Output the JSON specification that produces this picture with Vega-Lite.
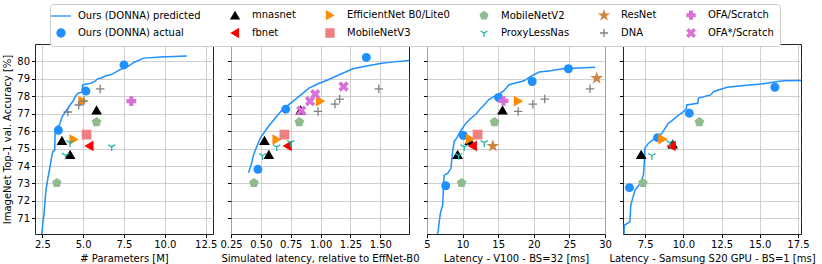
{
 "$schema": "https://vega.github.io/schema/vega-lite/v6.json",
 "padding": {"left": 2, "top": 3, "right": 5, "bottom": 2},
 "bounds": "flush",
 "spacing": 18,
 "config": {
  "font": "DejaVu Sans",
  "view": {"stroke": "#222222", "strokeWidth": 1},
  "axis": {"labelFontSize": 10, "titleFontSize": 10, "titleFontWeight": "normal", "labelColor": "#000000", "titleColor": "#000000", "tickColor": "#000000", "tickSize": 3.5, "labelPadding": 2, "domain": false, "gridColor": "#c4c4c4", "gridWidth": 0.8, "labelFont": "DejaVu Sans", "titleFont": "DejaVu Sans", "labelFlush": false, "labelOverlap": false, "titleLimit": 300, "tickCount": 20},
  "legend": {"labelFontSize": 10, "labelFont": "DejaVu Sans", "labelColor": "#000000", "symbolSize": 64, "symbolStrokeWidth": 1.3, "labelOffset": 12, "columnPadding": 27, "rowPadding": 4, "padding": 6, "strokeColor": "#cccccc", "fillColor": "#ffffff", "cornerRadius": 3, "labelLimit": 300, "symbolOpacity": 1}
 },
 "datasets": {
  "line": [
   {"p":1,"x":2.46,"y":70.08},{"p":1,"x":2.55,"y":70.9},{"p":1,"x":2.6,"y":71.2},{"p":1,"x":2.68,"y":72.2},{"p":1,"x":2.74,"y":72.72},{"p":1,"x":2.84,"y":73.3},{"p":1,"x":2.92,"y":73.7},{"p":1,"x":2.99,"y":74.06},{"p":1,"x":3.09,"y":74.64},{"p":1,"x":3.15,"y":74.83},{"p":1,"x":3.26,"y":74.9},{"p":1,"x":3.29,"y":76.15},{"p":1,"x":3.4,"y":76.25},{"p":1,"x":3.55,"y":76.36},{"p":1,"x":3.7,"y":76.8},{"p":1,"x":3.9,"y":77.1},{"p":1,"x":4.06,"y":77.3},{"p":1,"x":4.2,"y":77.5},{"p":1,"x":4.36,"y":77.7},{"p":1,"x":4.5,"y":77.95},{"p":1,"x":4.67,"y":78.18},{"p":1,"x":4.93,"y":78.24},{"p":1,"x":4.97,"y":78.66},{"p":1,"x":5.2,"y":78.7},{"p":1,"x":5.48,"y":78.75},{"p":1,"x":5.7,"y":78.85},{"p":1,"x":5.88,"y":79.0},{"p":1,"x":6.1,"y":79.05},{"p":1,"x":6.39,"y":79.18},{"p":1,"x":6.69,"y":79.23},{"p":1,"x":6.89,"y":79.33},{"p":1,"x":7.2,"y":79.5},{"p":1,"x":7.5,"y":79.62},{"p":1,"x":7.8,"y":79.75},{"p":1,"x":8.1,"y":79.94},{"p":1,"x":8.71,"y":80.19},{"p":1,"x":9.73,"y":80.25},{"p":1,"x":11.35,"y":80.31},
   {"p":2,"x":0.397,"y":73.62},{"p":2,"x":0.42,"y":74.1},{"p":2,"x":0.439,"y":74.64},{"p":2,"x":0.465,"y":75.1},{"p":2,"x":0.494,"y":75.59},{"p":2,"x":0.55,"y":76.15},{"p":2,"x":0.619,"y":76.74},{"p":2,"x":0.67,"y":77.15},{"p":2,"x":0.731,"y":77.51},{"p":2,"x":0.82,"y":78.0},{"p":2,"x":0.903,"y":78.47},{"p":2,"x":0.98,"y":78.72},{"p":2,"x":1.064,"y":78.95},{"p":2,"x":1.17,"y":79.28},{"p":2,"x":1.272,"y":79.58},{"p":2,"x":1.397,"y":79.75},{"p":2,"x":1.5,"y":79.88},{"p":2,"x":1.592,"y":79.96},{"p":2,"x":1.75,"y":80.06},
   {"p":3,"x":6.5,"y":70.08},{"p":3,"x":6.87,"y":71.28},{"p":3,"x":7.2,"y":71.76},{"p":3,"x":7.34,"y":73.1},{"p":3,"x":7.43,"y":73.49},{"p":3,"x":7.9,"y":73.58},{"p":3,"x":8.36,"y":73.87},{"p":3,"x":8.6,"y":74.83},{"p":3,"x":8.83,"y":75.4},{"p":3,"x":9.3,"y":75.69},{"p":3,"x":9.67,"y":75.98},{"p":3,"x":10.47,"y":76.46},{"p":3,"x":11.17,"y":76.74},{"p":3,"x":11.87,"y":76.97},{"p":3,"x":12.57,"y":77.32},{"p":3,"x":13.27,"y":77.61},{"p":3,"x":13.64,"y":77.8},{"p":3,"x":14.44,"y":77.99},{"p":3,"x":15.0,"y":78.09},{"p":3,"x":15.75,"y":78.31},{"p":3,"x":16.54,"y":78.66},{"p":3,"x":17.71,"y":78.79},{"p":3,"x":18.64,"y":78.89},{"p":3,"x":19.58,"y":79.14},{"p":3,"x":20.75,"y":79.39},{"p":3,"x":22.38,"y":79.46},{"p":3,"x":24.02,"y":79.58},{"p":3,"x":26.36,"y":79.62},{"p":3,"x":28.6,"y":79.66},
   {"p":4,"x":6.12,"y":70.08},{"p":4,"x":6.13,"y":70.6},{"p":4,"x":6.5,"y":70.8},{"p":4,"x":6.56,"y":71.76},{"p":4,"x":6.7,"y":72.2},{"p":4,"x":6.84,"y":72.62},{"p":4,"x":7.17,"y":73.0},{"p":4,"x":7.39,"y":73.49},{"p":4,"x":7.45,"y":74.25},{"p":4,"x":7.48,"y":75.02},{"p":4,"x":7.72,"y":75.31},{"p":4,"x":8.16,"y":75.6},{"p":4,"x":8.6,"y":75.88},{"p":4,"x":9.03,"y":76.46},{"p":4,"x":9.18,"y":76.55},{"p":4,"x":9.58,"y":76.84},{"p":4,"x":10.02,"y":77.13},{"p":4,"x":10.2,"y":77.3},{"p":4,"x":10.22,"y":77.5},{"p":4,"x":10.94,"y":77.6},{"p":4,"x":10.99,"y":77.9},{"p":4,"x":11.78,"y":78.08},{"p":4,"x":12.0,"y":78.28},{"p":4,"x":12.87,"y":78.52},{"p":4,"x":13.97,"y":78.62},{"p":4,"x":15.06,"y":78.7},{"p":4,"x":16.16,"y":78.85},{"p":4,"x":16.6,"y":78.89},{"p":4,"x":17.8,"y":78.91}
  ],
  "donna": [
   {"p":1,"x":3.48,"y":76.05},{"p":1,"x":5.17,"y":78.3},{"p":1,"x":7.5,"y":79.8},
   {"p":2,"x":0.475,"y":73.81},{"p":2,"x":0.708,"y":77.26},{"p":2,"x":1.383,"y":80.23},
   {"p":3,"x":7.62,"y":72.87},{"p":3,"x":10.09,"y":75.75},{"p":3,"x":15.05,"y":77.93},{"p":3,"x":19.77,"y":78.85},{"p":3,"x":24.86,"y":79.58},
   {"p":4,"x":6.47,"y":72.76},{"p":4,"x":8.31,"y":75.63},{"p":4,"x":10.39,"y":77.03},{"p":4,"x":15.99,"y":78.52}
  ],
  "pts": [
   {"p":1,"m":"mnasnet","x":3.7,"y":75.45},{"p":1,"m":"mnasnet","x":4.2,"y":74.65},{"p":1,"m":"mnasnet","x":5.82,"y":77.2},
   {"p":1,"m":"fbnet","x":5.37,"y":75.15},
   {"p":1,"m":"EfficientNet B0/Lite0","x":4.42,"y":75.52},{"p":1,"m":"EfficientNet B0/Lite0","x":4.97,"y":77.72},
   {"p":1,"m":"MobileNetV3","x":5.21,"y":75.8},
   {"p":1,"m":"MobileNetV2","x":5.82,"y":76.52},{"p":1,"m":"MobileNetV2","x":3.39,"y":73.03},
   {"p":1,"m":"ProxyLessNas","x":4.2,"y":75.34},{"p":1,"m":"ProxyLessNas","x":3.92,"y":74.62},{"p":1,"m":"ProxyLessNas","x":6.75,"y":75.1},
   {"p":1,"m":"DNA","x":4.06,"y":77.1},{"p":1,"m":"DNA","x":4.73,"y":77.5},{"p":1,"m":"DNA","x":5.05,"y":77.74},{"p":1,"m":"DNA","x":6.04,"y":78.42},
   {"p":1,"m":"OFA/Scratch","x":7.95,"y":77.72},
   {"p":2,"m":"mnasnet","x":0.53,"y":75.45},{"p":2,"m":"mnasnet","x":0.567,"y":74.65},{"p":2,"m":"mnasnet","x":0.833,"y":77.2},
   {"p":2,"m":"fbnet","x":0.722,"y":75.15},
   {"p":2,"m":"EfficientNet B0/Lite0","x":0.633,"y":75.52},{"p":2,"m":"EfficientNet B0/Lite0","x":0.997,"y":77.72},
   {"p":2,"m":"MobileNetV3","x":0.697,"y":75.8},
   {"p":2,"m":"MobileNetV2","x":0.822,"y":76.52},{"p":2,"m":"MobileNetV2","x":0.442,"y":73.03},
   {"p":2,"m":"ProxyLessNas","x":0.633,"y":75.1},{"p":2,"m":"ProxyLessNas","x":0.75,"y":75.34},{"p":2,"m":"ProxyLessNas","x":0.514,"y":74.6},
   {"p":2,"m":"DNA","x":0.978,"y":77.13},{"p":2,"m":"DNA","x":1.12,"y":77.55},{"p":2,"m":"DNA","x":1.16,"y":77.84},{"p":2,"m":"DNA","x":1.487,"y":78.43},
   {"p":2,"m":"OFA*/Scratch","x":0.838,"y":77.18},{"p":2,"m":"OFA*/Scratch","x":0.912,"y":77.72},{"p":2,"m":"OFA*/Scratch","x":0.955,"y":78.12},{"p":2,"m":"OFA*/Scratch","x":1.192,"y":78.56},
   {"p":3,"m":"mnasnet","x":9.3,"y":74.65},{"p":3,"m":"mnasnet","x":11.0,"y":75.45},{"p":3,"m":"mnasnet","x":15.6,"y":77.2},
   {"p":3,"m":"fbnet","x":11.4,"y":75.15},
   {"p":3,"m":"EfficientNet B0/Lite0","x":11.07,"y":75.55},{"p":3,"m":"EfficientNet B0/Lite0","x":17.8,"y":77.72},
   {"p":3,"m":"MobileNetV3","x":12.1,"y":75.8},
   {"p":3,"m":"MobileNetV2","x":14.49,"y":76.52},{"p":3,"m":"MobileNetV2","x":9.86,"y":73.03},
   {"p":3,"m":"ProxyLessNas","x":10.23,"y":75.1},{"p":3,"m":"ProxyLessNas","x":13.04,"y":75.34},{"p":3,"m":"ProxyLessNas","x":9.44,"y":74.6},
   {"p":3,"m":"ResNet","x":14.25,"y":75.15},{"p":3,"m":"ResNet","x":28.83,"y":79.04},
   {"p":3,"m":"DNA","x":17.8,"y":77.13},{"p":3,"m":"DNA","x":19.86,"y":77.55},{"p":3,"m":"DNA","x":21.54,"y":77.84},{"p":3,"m":"DNA","x":27.9,"y":78.43},
   {"p":3,"m":"OFA/Scratch","x":15.75,"y":77.74},
   {"p":4,"m":"mnasnet","x":7.24,"y":74.65},{"p":4,"m":"mnasnet","x":9.3,"y":75.25},
   {"p":4,"m":"fbnet","x":9.22,"y":75.15},
   {"p":4,"m":"EfficientNet B0/Lite0","x":8.64,"y":75.54},
   {"p":4,"m":"MobileNetV2","x":11.05,"y":76.52},{"p":4,"m":"MobileNetV2","x":7.35,"y":73.03},
   {"p":4,"m":"ProxyLessNas","x":7.94,"y":74.6},{"p":4,"m":"ProxyLessNas","x":9.12,"y":75.34}
  ]
 },
 "hconcat": [
  {
   "width": 178, "height": 190,
   "layer": [
    {"data": {"name": "line"}, "transform": [{"filter": "datum.p == 1"}],
     "mark": {"type": "line", "color": "#1e90ff", "strokeWidth": 1.5, "clip": true},
     "encoding": {
      "x": {"field": "x", "type": "quantitative", "scale": {"domain": [2.05, 12.95], "nice": false, "zero": false}, "axis": {"values": [2.5, 5, 7.5, 10, 12.5], "format": ".1f", "title": "# Parameters [M]"}},
      "y": {"field": "y", "type": "quantitative", "scale": {"domain": [70.1, 81], "nice": false, "zero": false}, "axis": {"values": [71, 72, 73, 74, 75, 76, 77, 78, 79, 80], "format": "d", "title": "ImageNet Top-1 val. Accuracy [%]"}}
     }},
    {"data": {"name": "donna"}, "transform": [{"filter": "datum.p == 1"}],
     "mark": {"type": "circle", "color": "#1e90ff", "size": 80, "opacity": 1},
     "encoding": {"x": {"field": "x", "type": "quantitative"}, "y": {"field": "y", "type": "quantitative"}}},
    {"data": {"name": "pts"}, "transform": [{"filter": "datum.p == 1"}],
     "mark": {"type": "point", "opacity": 1, "strokeWidth": 1.3, "size": 72},
     "encoding": {
      "x": {"field": "x", "type": "quantitative"}, "y": {"field": "y", "type": "quantitative"},
      "shape": {"field": "m", "type": "nominal", "scale": {"domain": ["Ours (DONNA) predicted","Ours (DONNA) actual","mnasnet","fbnet","EfficientNet B0/Lite0","MobileNetV3","MobileNetV2","ProxyLessNas","ResNet","DNA","OFA/Scratch","OFA*/Scratch"], "range": ["M-2.5,0L2.5,0","circle","triangle-up","triangle-left","triangle-right","square","M0,-1L0.951,-0.309L0.588,0.809L-0.588,0.809L-0.951,-0.309Z","M0,0L0,1M0,0L-0.87,-0.5M0,0L0.87,-0.5","M0,-1.1L0.245,-0.338L1.046,-0.34L0.397,0.129L0.647,0.89L0,0.418L-0.647,0.89L-0.397,0.129L-1.046,-0.34L-0.245,-0.338Z","M-1,0L1,0M0,-1L0,1","M-0.33,-1L0.33,-1L0.33,-0.33L1,-0.33L1,0.33L0.33,0.33L0.33,1L-0.33,1L-0.33,0.33L-1,0.33L-1,-0.33L-0.33,-0.33Z","M-1,-0.6L-0.6,-1L0,-0.4L0.6,-1L1,-0.6L0.4,0L1,0.6L0.6,1L0,0.4L-0.6,1L-1,0.6L-0.4,0Z"]}, "legend": {"orient": "none", "legendX": 15, "legendY": -40, "columns": 6, "title": null}},
      "fill": {"field": "m", "type": "nominal", "scale": {"domain": ["Ours (DONNA) predicted","Ours (DONNA) actual","mnasnet","fbnet","EfficientNet B0/Lite0","MobileNetV3","MobileNetV2","ProxyLessNas","ResNet","DNA","OFA/Scratch","OFA*/Scratch"], "range": ["#1e90ff","#1e90ff","#000000","#ff0000","#ff8c00","#f08080","#8fbc8f","#20b2aa","#cd853f","#808080","#da70d6","#da70d6"]}, "legend": {"orient": "none", "legendX": 15, "legendY": -40, "columns": 6, "title": null}},
      "stroke": {"field": "m", "type": "nominal", "scale": {"domain": ["Ours (DONNA) predicted","Ours (DONNA) actual","mnasnet","fbnet","EfficientNet B0/Lite0","MobileNetV3","MobileNetV2","ProxyLessNas","ResNet","DNA","OFA/Scratch","OFA*/Scratch"], "range": ["#1e90ff","#1e90ff","#000000","#ff0000","#ff8c00","#f08080","#8fbc8f","#20b2aa","#cd853f","#808080","#da70d6","#da70d6"]}, "legend": {"orient": "none", "legendX": 15, "legendY": -40, "columns": 6, "title": null}}
     }}
   ]
  },
  {
   "width": 178, "height": 190,
   "layer": [
    {"data": {"name": "line"}, "transform": [{"filter": "datum.p == 2"}],
     "mark": {"type": "line", "color": "#1e90ff", "strokeWidth": 1.5, "clip": true},
     "encoding": {
      "x": {"field": "x", "type": "quantitative", "scale": {"domain": [0.25, 1.74], "nice": false, "zero": false}, "axis": {"values": [0.25, 0.5, 0.75, 1, 1.25, 1.5], "format": ".2f", "title": "Simulated latency, relative to EffNet-B0"}},
      "y": {"field": "y", "type": "quantitative", "scale": {"domain": [70.1, 81], "nice": false, "zero": false}, "axis": {"values": [71, 72, 73, 74, 75, 76, 77, 78, 79, 80], "labels": false, "title": null}}
     }},
    {"data": {"name": "donna"}, "transform": [{"filter": "datum.p == 2"}],
     "mark": {"type": "circle", "color": "#1e90ff", "size": 80, "opacity": 1},
     "encoding": {"x": {"field": "x", "type": "quantitative"}, "y": {"field": "y", "type": "quantitative"}}},
    {"data": {"name": "pts"}, "transform": [{"filter": "datum.p == 2"}],
     "mark": {"type": "point", "opacity": 1, "strokeWidth": 1.3, "size": 72},
     "encoding": {
      "x": {"field": "x", "type": "quantitative"}, "y": {"field": "y", "type": "quantitative"},
      "shape": {"field": "m", "type": "nominal", "scale": {"domain": ["Ours (DONNA) predicted","Ours (DONNA) actual","mnasnet","fbnet","EfficientNet B0/Lite0","MobileNetV3","MobileNetV2","ProxyLessNas","ResNet","DNA","OFA/Scratch","OFA*/Scratch"], "range": ["M-2.5,0L2.5,0","circle","triangle-up","triangle-left","triangle-right","square","M0,-1L0.951,-0.309L0.588,0.809L-0.588,0.809L-0.951,-0.309Z","M0,0L0,1M0,0L-0.87,-0.5M0,0L0.87,-0.5","M0,-1.1L0.245,-0.338L1.046,-0.34L0.397,0.129L0.647,0.89L0,0.418L-0.647,0.89L-0.397,0.129L-1.046,-0.34L-0.245,-0.338Z","M-1,0L1,0M0,-1L0,1","M-0.33,-1L0.33,-1L0.33,-0.33L1,-0.33L1,0.33L0.33,0.33L0.33,1L-0.33,1L-0.33,0.33L-1,0.33L-1,-0.33L-0.33,-0.33Z","M-1,-0.6L-0.6,-1L0,-0.4L0.6,-1L1,-0.6L0.4,0L1,0.6L0.6,1L0,0.4L-0.6,1L-1,0.6L-0.4,0Z"]}, "legend": {"orient": "none", "legendX": 15, "legendY": -40, "columns": 6, "title": null}},
      "fill": {"field": "m", "type": "nominal", "scale": {"domain": ["Ours (DONNA) predicted","Ours (DONNA) actual","mnasnet","fbnet","EfficientNet B0/Lite0","MobileNetV3","MobileNetV2","ProxyLessNas","ResNet","DNA","OFA/Scratch","OFA*/Scratch"], "range": ["#1e90ff","#1e90ff","#000000","#ff0000","#ff8c00","#f08080","#8fbc8f","#20b2aa","#cd853f","#808080","#da70d6","#da70d6"]}, "legend": {"orient": "none", "legendX": 15, "legendY": -40, "columns": 6, "title": null}},
      "stroke": {"field": "m", "type": "nominal", "scale": {"domain": ["Ours (DONNA) predicted","Ours (DONNA) actual","mnasnet","fbnet","EfficientNet B0/Lite0","MobileNetV3","MobileNetV2","ProxyLessNas","ResNet","DNA","OFA/Scratch","OFA*/Scratch"], "range": ["#1e90ff","#1e90ff","#000000","#ff0000","#ff8c00","#f08080","#8fbc8f","#20b2aa","#cd853f","#808080","#da70d6","#da70d6"]}, "legend": {"orient": "none", "legendX": 15, "legendY": -40, "columns": 6, "title": null}}
     }}
   ]
  },
  {
   "width": 178, "height": 190,
   "layer": [
    {"data": {"name": "line"}, "transform": [{"filter": "datum.p == 3"}],
     "mark": {"type": "line", "color": "#1e90ff", "strokeWidth": 1.5, "clip": true},
     "encoding": {
      "x": {"field": "x", "type": "quantitative", "scale": {"domain": [5, 30], "nice": false, "zero": false}, "axis": {"values": [5, 10, 15, 20, 25, 30], "format": "d", "title": "Latency - V100 - BS=32 [ms]"}},
      "y": {"field": "y", "type": "quantitative", "scale": {"domain": [70.1, 81], "nice": false, "zero": false}, "axis": {"values": [71, 72, 73, 74, 75, 76, 77, 78, 79, 80], "labels": false, "title": null}}
     }},
    {"data": {"name": "donna"}, "transform": [{"filter": "datum.p == 3"}],
     "mark": {"type": "circle", "color": "#1e90ff", "size": 80, "opacity": 1},
     "encoding": {"x": {"field": "x", "type": "quantitative"}, "y": {"field": "y", "type": "quantitative"}}},
    {"data": {"name": "pts"}, "transform": [{"filter": "datum.p == 3"}],
     "mark": {"type": "point", "opacity": 1, "strokeWidth": 1.3, "size": 72},
     "encoding": {
      "x": {"field": "x", "type": "quantitative"}, "y": {"field": "y", "type": "quantitative"},
      "shape": {"field": "m", "type": "nominal", "scale": {"domain": ["Ours (DONNA) predicted","Ours (DONNA) actual","mnasnet","fbnet","EfficientNet B0/Lite0","MobileNetV3","MobileNetV2","ProxyLessNas","ResNet","DNA","OFA/Scratch","OFA*/Scratch"], "range": ["M-2.5,0L2.5,0","circle","triangle-up","triangle-left","triangle-right","square","M0,-1L0.951,-0.309L0.588,0.809L-0.588,0.809L-0.951,-0.309Z","M0,0L0,1M0,0L-0.87,-0.5M0,0L0.87,-0.5","M0,-1.1L0.245,-0.338L1.046,-0.34L0.397,0.129L0.647,0.89L0,0.418L-0.647,0.89L-0.397,0.129L-1.046,-0.34L-0.245,-0.338Z","M-1,0L1,0M0,-1L0,1","M-0.33,-1L0.33,-1L0.33,-0.33L1,-0.33L1,0.33L0.33,0.33L0.33,1L-0.33,1L-0.33,0.33L-1,0.33L-1,-0.33L-0.33,-0.33Z","M-1,-0.6L-0.6,-1L0,-0.4L0.6,-1L1,-0.6L0.4,0L1,0.6L0.6,1L0,0.4L-0.6,1L-1,0.6L-0.4,0Z"]}, "legend": {"orient": "none", "legendX": 15, "legendY": -40, "columns": 6, "title": null}},
      "fill": {"field": "m", "type": "nominal", "scale": {"domain": ["Ours (DONNA) predicted","Ours (DONNA) actual","mnasnet","fbnet","EfficientNet B0/Lite0","MobileNetV3","MobileNetV2","ProxyLessNas","ResNet","DNA","OFA/Scratch","OFA*/Scratch"], "range": ["#1e90ff","#1e90ff","#000000","#ff0000","#ff8c00","#f08080","#8fbc8f","#20b2aa","#cd853f","#808080","#da70d6","#da70d6"]}, "legend": {"orient": "none", "legendX": 15, "legendY": -40, "columns": 6, "title": null}},
      "stroke": {"field": "m", "type": "nominal", "scale": {"domain": ["Ours (DONNA) predicted","Ours (DONNA) actual","mnasnet","fbnet","EfficientNet B0/Lite0","MobileNetV3","MobileNetV2","ProxyLessNas","ResNet","DNA","OFA/Scratch","OFA*/Scratch"], "range": ["#1e90ff","#1e90ff","#000000","#ff0000","#ff8c00","#f08080","#8fbc8f","#20b2aa","#cd853f","#808080","#da70d6","#da70d6"]}, "legend": {"orient": "none", "legendX": 15, "legendY": -40, "columns": 6, "title": null}}
     }}
   ]
  },
  {
   "width": 178, "height": 190,
   "layer": [
    {"data": {"name": "line"}, "transform": [{"filter": "datum.p == 4"}],
     "mark": {"type": "line", "color": "#1e90ff", "strokeWidth": 1.5, "clip": true},
     "encoding": {
      "x": {"field": "x", "type": "quantitative", "scale": {"domain": [6.05, 17.7], "nice": false, "zero": false}, "axis": {"values": [7.5, 10, 12.5, 15, 17.5], "format": ".1f", "title": "Latency - Samsung S20 GPU - BS=1 [ms]"}},
      "y": {"field": "y", "type": "quantitative", "scale": {"domain": [70.1, 81], "nice": false, "zero": false}, "axis": {"values": [71, 72, 73, 74, 75, 76, 77, 78, 79, 80], "labels": false, "title": null}}
     }},
    {"data": {"name": "donna"}, "transform": [{"filter": "datum.p == 4"}],
     "mark": {"type": "circle", "color": "#1e90ff", "size": 80, "opacity": 1},
     "encoding": {"x": {"field": "x", "type": "quantitative"}, "y": {"field": "y", "type": "quantitative"}}},
    {"data": {"name": "pts"}, "transform": [{"filter": "datum.p == 4"}],
     "mark": {"type": "point", "opacity": 1, "strokeWidth": 1.3, "size": 72},
     "encoding": {
      "x": {"field": "x", "type": "quantitative"}, "y": {"field": "y", "type": "quantitative"},
      "shape": {"field": "m", "type": "nominal", "scale": {"domain": ["Ours (DONNA) predicted","Ours (DONNA) actual","mnasnet","fbnet","EfficientNet B0/Lite0","MobileNetV3","MobileNetV2","ProxyLessNas","ResNet","DNA","OFA/Scratch","OFA*/Scratch"], "range": ["M-2.5,0L2.5,0","circle","triangle-up","triangle-left","triangle-right","square","M0,-1L0.951,-0.309L0.588,0.809L-0.588,0.809L-0.951,-0.309Z","M0,0L0,1M0,0L-0.87,-0.5M0,0L0.87,-0.5","M0,-1.1L0.245,-0.338L1.046,-0.34L0.397,0.129L0.647,0.89L0,0.418L-0.647,0.89L-0.397,0.129L-1.046,-0.34L-0.245,-0.338Z","M-1,0L1,0M0,-1L0,1","M-0.33,-1L0.33,-1L0.33,-0.33L1,-0.33L1,0.33L0.33,0.33L0.33,1L-0.33,1L-0.33,0.33L-1,0.33L-1,-0.33L-0.33,-0.33Z","M-1,-0.6L-0.6,-1L0,-0.4L0.6,-1L1,-0.6L0.4,0L1,0.6L0.6,1L0,0.4L-0.6,1L-1,0.6L-0.4,0Z"]}, "legend": {"orient": "none", "legendX": 15, "legendY": -40, "columns": 6, "title": null}},
      "fill": {"field": "m", "type": "nominal", "scale": {"domain": ["Ours (DONNA) predicted","Ours (DONNA) actual","mnasnet","fbnet","EfficientNet B0/Lite0","MobileNetV3","MobileNetV2","ProxyLessNas","ResNet","DNA","OFA/Scratch","OFA*/Scratch"], "range": ["#1e90ff","#1e90ff","#000000","#ff0000","#ff8c00","#f08080","#8fbc8f","#20b2aa","#cd853f","#808080","#da70d6","#da70d6"]}, "legend": {"orient": "none", "legendX": 15, "legendY": -40, "columns": 6, "title": null}},
      "stroke": {"field": "m", "type": "nominal", "scale": {"domain": ["Ours (DONNA) predicted","Ours (DONNA) actual","mnasnet","fbnet","EfficientNet B0/Lite0","MobileNetV3","MobileNetV2","ProxyLessNas","ResNet","DNA","OFA/Scratch","OFA*/Scratch"], "range": ["#1e90ff","#1e90ff","#000000","#ff0000","#ff8c00","#f08080","#8fbc8f","#20b2aa","#cd853f","#808080","#da70d6","#da70d6"]}, "legend": {"orient": "none", "legendX": 15, "legendY": -40, "columns": 6, "title": null}}
     }}
   ]
  }
 ]
}
